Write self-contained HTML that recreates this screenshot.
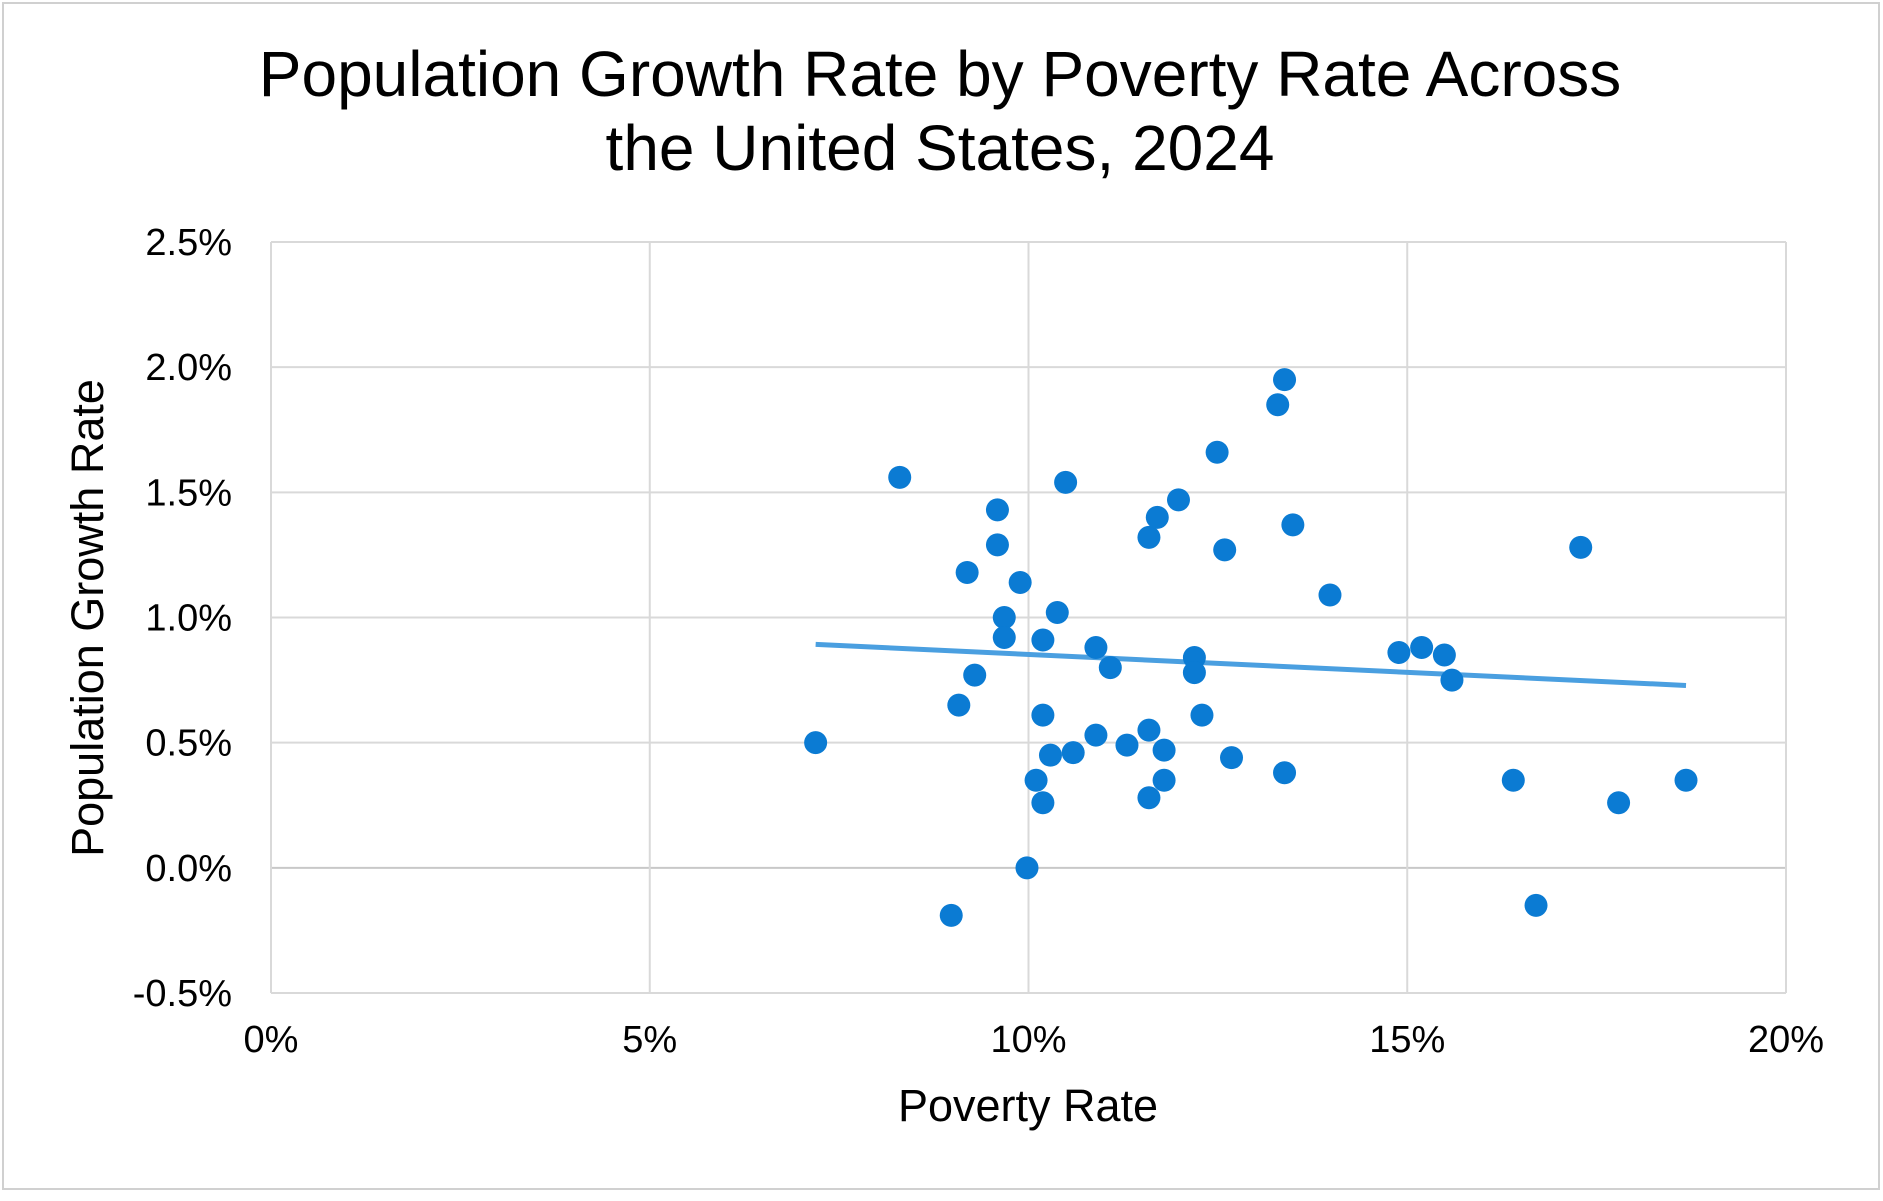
<!DOCTYPE html>
<html><head><meta charset="utf-8"><style>
body{margin:0;background:#fff;}
svg text{font-family:"Liberation Sans",Arial,sans-serif;fill:#000;}
</style></head><body>
<svg id="chart" width="1883" height="1196" xmlns="http://www.w3.org/2000/svg">
<rect x="3" y="3" width="1876" height="1186" fill="#fff" stroke="#d0d0d0" stroke-width="2"/>
<text x="940" y="96" font-size="64" text-anchor="middle">Population Growth Rate by Poverty Rate Across</text>
<text x="940" y="170" font-size="64" text-anchor="middle">the United States, 2024</text>
<g id="grid"></g><g id="ticks"></g><g id="trend"></g><g id="points"></g>
<text x="1028" y="1121" font-size="45" text-anchor="middle">Poverty Rate</text>
<text transform="translate(103,618) rotate(-90)" font-size="45" text-anchor="middle">Population Growth Rate</text>
</svg>
<script>
const povertyRate=[7.19,8.30,8.98,9.08,9.19,9.29,9.59,9.59,9.68,9.68,9.89,9.98,10.10,10.19,10.19,10.19,10.29,10.38,10.49,10.59,10.89,10.89,11.08,11.30,11.59,11.59,11.59,11.70,11.79,11.79,11.98,12.19,12.19,12.29,12.49,12.59,12.68,13.29,13.38,13.38,13.49,13.98,14.89,15.19,15.49,15.59,16.40,16.70,17.29,17.79,18.68];
const growthRate=[0.50,1.56,-0.19,0.65,1.18,0.77,1.43,1.29,1.00,0.92,1.14,0.00,0.35,0.91,0.61,0.26,0.45,1.02,1.54,0.46,0.88,0.53,0.80,0.49,1.32,0.55,0.28,1.40,0.47,0.35,1.47,0.84,0.78,0.61,1.66,1.27,0.44,1.85,1.95,0.38,1.37,1.09,0.86,0.88,0.85,0.75,0.35,-0.15,1.28,0.26,0.35];
const xTicks=[0,5,10,15,20];
const yTicks=[-0.5,0,0.5,1.0,1.5,2.0,2.5];
const NS="http://www.w3.org/2000/svg";
const L=271,R=1786,T=242,B=993;
const xs=v=>L+(v-0)/20*(R-L);
const ys=v=>B-(v+0.5)/3*(B-T);
function mk(tag,attrs,parent){const e=document.createElementNS(NS,tag);for(const k in attrs)e.setAttribute(k,attrs[k]);parent.appendChild(e);return e;}
const grid=document.getElementById('grid'),ticks=document.getElementById('ticks');
yTicks.forEach(v=>{
 const l=mk('line',{x1:L,x2:R,y1:ys(v),y2:ys(v),stroke:v===0?'#c8c8c8':'#d9d9d9','stroke-width':2},grid);
 
 
 const t=mk('text',{x:L-39,y:ys(v)+13,'font-size':38,'text-anchor':'end'},ticks);
 t.textContent=v.toFixed(1)+'%';
 
 
});
xTicks.forEach(v=>{
 const l=mk('line',{x1:xs(v),x2:xs(v),y1:T,y2:B,stroke:'#d9d9d9','stroke-width':2},grid);
 
 
 const t=mk('text',{x:xs(v),y:B+59,'font-size':38,'text-anchor':'middle'},ticks);
 t.textContent=v+'%';
 
 
});
const n=povertyRate.length;let mx=0,my=0;for(let i=0;i<n;i++){mx+=povertyRate[i];my+=growthRate[i];}mx/=n;my/=n;
let sxy=0,sxx=0;for(let i=0;i<n;i++){sxy+=(povertyRate[i]-mx)*(growthRate[i]-my);sxx+=(povertyRate[i]-mx)**2;}
const slope=sxy/sxx,icpt=my-slope*mx;
const x0=Math.min(...povertyRate),x1=Math.max(...povertyRate);
const tl=mk('line',{x1:xs(x0),y1:ys(icpt+slope*x0),x2:xs(x1),y2:ys(icpt+slope*x1),stroke:'#4A9FE0','stroke-width':5},document.getElementById('trend'));


const pts=document.getElementById('points');
for(let i=0;i<n;i++){
 const c=mk('circle',{cx:xs(povertyRate[i]),cy:ys(growthRate[i]),r:11.5,fill:'#0B7BD3'},pts);
 
 
}
</script>
</body></html>
